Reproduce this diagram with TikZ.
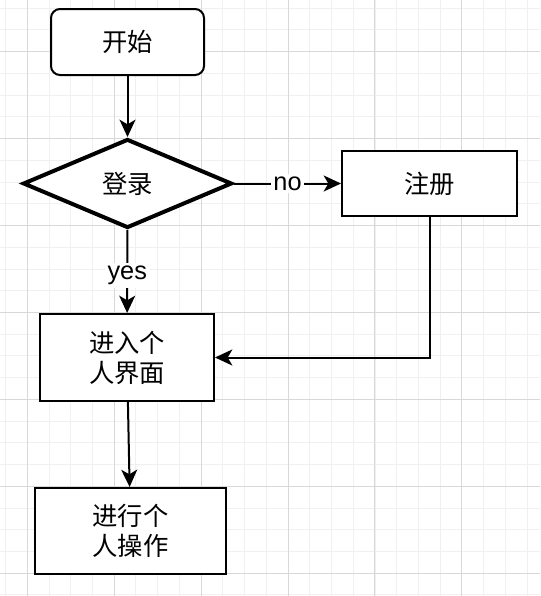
\documentclass[tikz,border=0pt]{standalone}
\usepackage{fontspec}
\setmainfont{Liberation Sans}
\newfontfamily\cjk{Noto Sans CJK SC}
\usetikzlibrary{shapes.geometric,arrows.meta}

\definecolor{gridminor}{RGB}{240,240,240}
\definecolor{gridmajor}{RGB}{216,216,216}

\tikzset{every picture/.style={line width=0.75pt},
  flowbox/.style={draw,line width=1.5pt,fill=white,inner sep=0pt,align=center,
    font=\cjk\fontsize{19}{22.5}\selectfont},
  flowline/.style={line width=1.5pt,-{Stealth[length=13pt,width=12pt,inset=3.5pt]}},
  flowlabel/.style={fill=white,inner sep=2pt,font=\fontsize{19}{22.5}\selectfont}}

\begin{document}
\begin{tikzpicture}[x=0.75pt,y=0.75pt,yscale=-1,xscale=1]
\path[use as bounding box] (0,0) rectangle (540,596);
\fill[white] (0,0) rectangle (540,596);

%Grid
\foreach \i in {0,...,24} \draw[gridminor] (5.6+21.73*\i,0) -- (5.6+21.73*\i,596);
\foreach \i in {0,...,27} \draw[gridminor] (0,8.24+21.73*\i) -- (540,8.24+21.73*\i);
\foreach \i in {0,...,5} \draw[gridmajor] (27.3+86.92*\i,0) -- (27.3+86.92*\i,596);
\foreach \i in {0,...,6} \draw[gridmajor] (0,51.7+86.92*\i) -- (540,51.7+86.92*\i);

%Shapes
\node[flowbox,rounded corners=6.75pt,minimum width=114.75pt,minimum height=49.5pt] (start) at (127.5,42) {开始};
\node[flowbox,diamond,line width=3pt,minimum width=156.75pt,minimum height=66.75pt] (login) at (127.5,183.5) {登录};
\node[flowbox,minimum width=131.25pt,minimum height=48.75pt] (register) at (429.5,183.5) {注册};
\node[flowbox,minimum width=130.5pt,minimum height=65.25pt] (enter) at (127,357.5) {进入个\\人界面};
\node[flowbox,minimum width=143.25pt,minimum height=64.5pt] (operate) at (130.5,531) {进行个\\人操作};

%Connectors
\draw[flowline] (start) -- (login);
\draw[flowline] (login) -- node[flowlabel] {no} (register);
\draw[flowline] (login) -- node[flowlabel,yshift=-3pt] {yes} (enter);
\draw[flowline] (register.south) |- (enter.east);
\draw[flowline] (enter) -- (operate);

\end{tikzpicture}
\end{document}
